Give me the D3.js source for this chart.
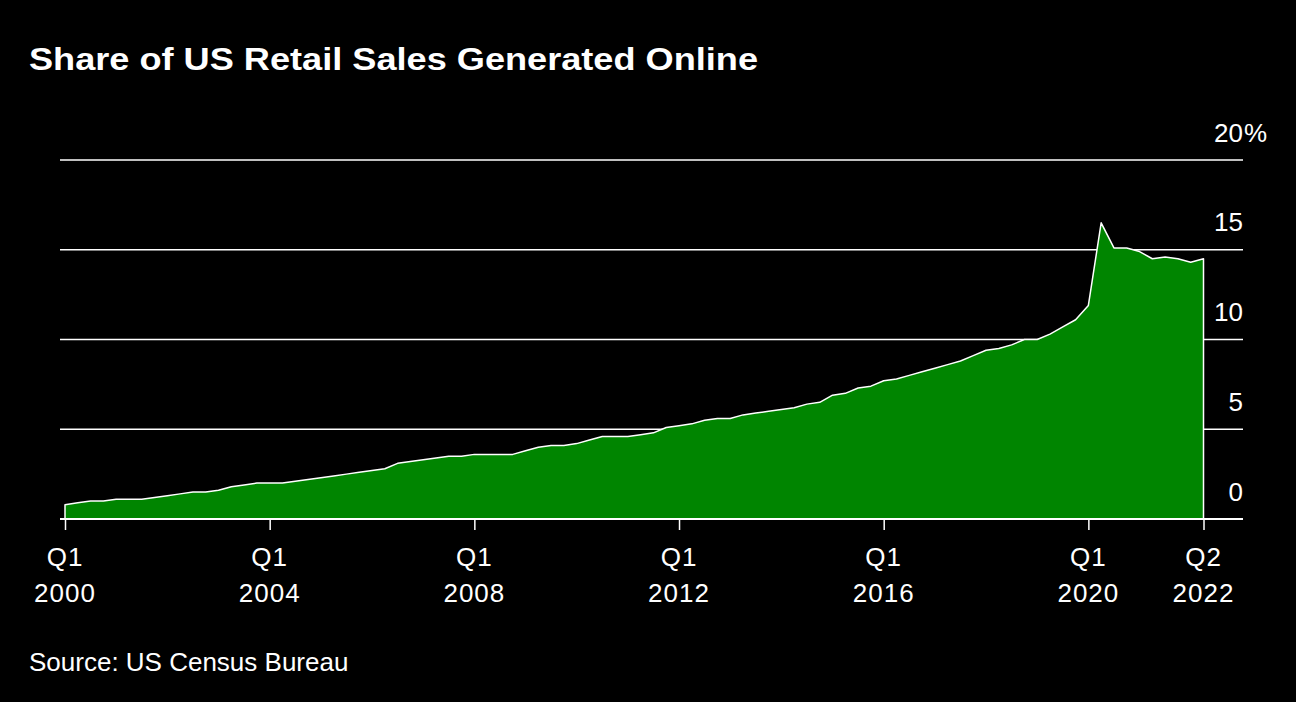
<!DOCTYPE html>
<html>
<head>
<meta charset="utf-8">
<script src="https://cdn.jsdelivr.net/npm/d3@7"></script>
<style>
  html, body { margin: 0; padding: 0; background: #000; }
  #chart { width: 1296px; height: 702px; }
  text { font-family: "Liberation Sans", Arial, sans-serif; fill: #fff; }
</style>
</head>
<body>
<div id="chart"></div>
<script>
// quarters Q1 2000 .. Q2 2022
const years = d3.range(2000, 2023);
const quarters = years.flatMap(y => [1, 2, 3, 4].map(q => `Q${q} ${y}`)).slice(0, 90);

// e-commerce share of total retail sales, %
const shareValues = [
  0.8, 0.9, 1.0, 1.0,   1.1, 1.1, 1.1, 1.2,   1.3, 1.4, 1.5, 1.5,   1.6, 1.8, 1.9, 2.0,
  2.0, 2.0, 2.1, 2.2,   2.3, 2.4, 2.5, 2.6,   2.7, 2.8, 3.1, 3.2,   3.3, 3.4, 3.5, 3.5,
  3.6, 3.6, 3.6, 3.6,   3.8, 4.0, 4.1, 4.1,   4.2, 4.4, 4.6, 4.6,   4.6, 4.7, 4.8, 5.1,
  5.2, 5.3, 5.5, 5.6,   5.6, 5.8, 5.9, 6.0,   6.1, 6.2, 6.4, 6.5,   6.9, 7.0, 7.3, 7.4,
  7.7, 7.8, 8.0, 8.2,   8.4, 8.6, 8.8, 9.1,   9.4, 9.5, 9.7, 10.0,  10.0, 10.3, 10.7, 11.1,
  11.9, 16.5, 15.1, 15.1, 14.9, 14.5, 14.6, 14.5, 14.3, 14.5
];

const xTicks = ["Q1 2000", "Q1 2004", "Q1 2008", "Q1 2012", "Q1 2016", "Q1 2020", "Q2 2022"];
const yTicks = [0, 5, 10, 15, 20];

const data = quarters.map((q, i) => ({ q, v: shareValues[i] }));

const svg = d3.select("#chart").append("svg")
  .attr("width", 1296)
  .attr("height", 702);

const x = d3.scalePoint().domain(quarters).range([65, 1203.5]);
const y = d3.scaleLinear().domain([0, 20]).range([519, 160]);
const gridLeft = 60, gridRight = 1243;

// title + source
svg.append("text")
  .attr("x", 29).attr("y", 70)
  .attr("textLength", 729)
  .attr("lengthAdjust", "spacingAndGlyphs")
  .style("font-size", "31px")
  .style("font-weight", "bold")
  .text("Share of US Retail Sales Generated Online");

svg.append("text")
  .attr("x", 29).attr("y", 671)
  .style("font-size", "26px")
  .text("Source: US Census Bureau");

// gridlines (0 is the baseline, drawn after the area)
svg.selectAll("line.grid")
  .data(yTicks.filter(d => d > 0))
  .enter().append("line")
  .attr("class", "grid")
  .attr("x1", gridLeft).attr("x2", gridRight)
  .attr("y1", d => y(d)).attr("y2", d => y(d))
  .attr("stroke", "#fff")
  .attr("stroke-width", 1.5);

// area
const area = d3.area()
  .x(d => x(d.q))
  .y0(y(0))
  .y1(d => y(d.v));

svg.append("path")
  .datum(data)
  .attr("d", area)
  .attr("fill", "#008500")
  .attr("stroke", "#fff")
  .attr("stroke-width", 1.5)
  .attr("stroke-linejoin", "round");

// baseline
svg.append("line")
  .attr("x1", gridLeft).attr("x2", gridRight)
  .attr("y1", y(0)).attr("y2", y(0))
  .attr("stroke", "#fff")
  .attr("stroke-width", 2);

// y labels, right side above each line
const yl = svg.selectAll("g.ylab")
  .data(yTicks)
  .enter().append("g")
  .attr("class", "ylab");

yl.append("text")
  .attr("x", gridRight)
  .attr("y", d => y(d) - 18.5)
  .attr("text-anchor", "end")
  .style("font-size", "26px")
  .text(d => d);

svg.append("text")
  .attr("x", gridRight + 1)
  .attr("y", y(20) - 18.5)
  .style("font-size", "26px")
  .text("%");

// x axis ticks
const xAxis = d3.axisBottom(x)
  .tickValues(xTicks)
  .tickSize(11)
  .tickFormat("");

const gx = svg.append("g")
  .attr("transform", `translate(0,${y(0)})`)
  .call(xAxis);
gx.select(".domain").remove();
gx.selectAll(".tick line").attr("stroke", "#fff").attr("stroke-width", 1.5);

const xl = svg.selectAll("text.xlab")
  .data(xTicks)
  .enter().append("text")
  .attr("class", "xlab")
  .attr("text-anchor", "middle")
  .attr("transform", d => `translate(${x(d)},0)`)
  .style("font-size", "26px")
  .style("letter-spacing", "1px");

xl.append("tspan").attr("x", 0).attr("y", 566).text(d => d.split(" ")[0]);
xl.append("tspan").attr("x", 0).attr("y", 601.5).text(d => d.split(" ")[1]);
</script>
</body>
</html>
